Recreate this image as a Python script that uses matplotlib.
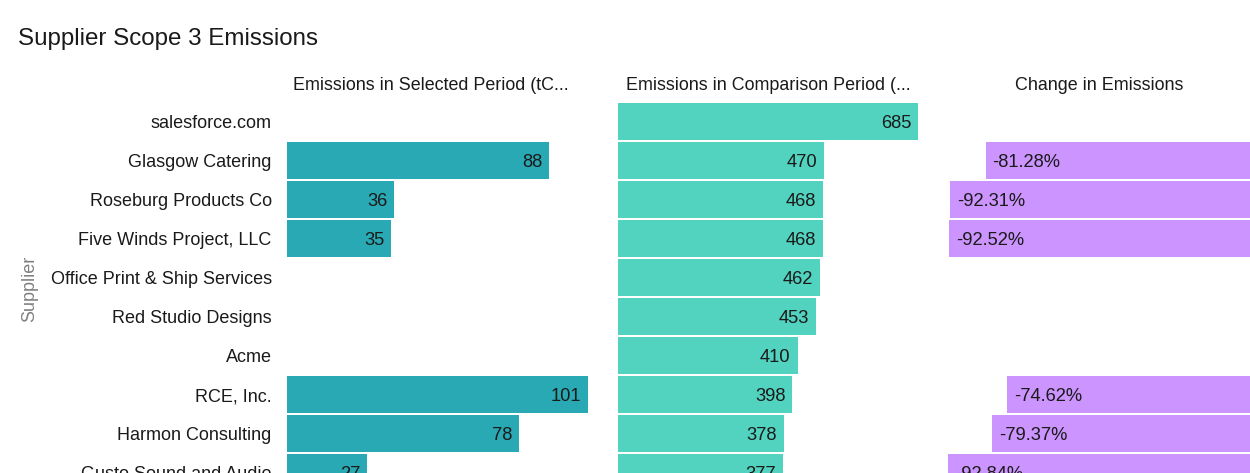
import matplotlib
matplotlib.use("Agg")
import matplotlib.pyplot as plt
import numpy as np

plt.rcParams['font.family'] = ['Liberation Sans', 'DejaVu Sans']

suppliers = ["salesforce.com", "Glasgow Catering", "Roseburg Products Co",
             "Five Winds Project, LLC", "Office Print & Ship Services",
             "Red Studio Designs", "Acme", "RCE, Inc.", "Harmon Consulting",
             "Gusto Sound and Audio"]
selected = [None, 88, 36, 35, None, None, None, 101, 78, 27]
comparison = [685, 470, 468, 468, 462, 453, 410, 398, 378, 377]
change = [None, -81.28, -92.31, -92.52, None, None, None, -74.62, -79.37, -92.84]

headers = ["Emissions in Selected Period (tC...",
           "Emissions in Comparison Period (...",
           "Change in Emissions"]
colors = ["#29A9B3", "#52D3BF", "#CC94FF"]

W, H = 1250, 473
fig = plt.figure(figsize=(W / 100, H / 100), dpi=100)

top_px = 102
row_px = 39
n = len(suppliers)
bottom_px = top_px + row_px * n
panels_px = [(287, 588), (618, 918), (948, 1250)]

axes = []
for (l, r) in panels_px:
    ax = fig.add_axes([l / W, 1 - bottom_px / H, (r - l) / W, (bottom_px - top_px) / H])
    axes.append(ax)

y = np.arange(n)
lab_fs = 13.2
txt = "#1a1a1a"

# Panel 1
ax = axes[0]
vals = [v if v is not None else 0 for v in selected]
ax.barh(y, vals, height=0.95, color=colors[0], edgecolor="none")
ax.set_xlim(0, max(v for v in selected if v is not None))
for i, v in enumerate(selected):
    if v is not None:
        ax.annotate(f"{v}", (v, i), xytext=(-5, 0), textcoords="offset points",
                    ha="right", va="center_baseline", fontsize=lab_fs, color=txt)

# Panel 2
ax = axes[1]
ax.barh(y, comparison, height=0.95, color=colors[1], edgecolor="none")
ax.set_xlim(0, max(comparison))
for i, v in enumerate(comparison):
    ax.annotate(f"{v}", (v, i), xytext=(-5, 0), textcoords="offset points",
                ha="right", va="center_baseline", fontsize=lab_fs, color=txt)

# Panel 3
ax = axes[2]
vals = [v if v is not None else 0 for v in change]
ax.barh(y, vals, height=0.95, color=colors[2], edgecolor="none")
ax.set_xlim(min(v for v in change if v is not None), 0)
for i, v in enumerate(change):
    if v is not None:
        ax.annotate(f"{v:.2f}%", (v, i), xytext=(5, 0), textcoords="offset points",
                    ha="left", va="center_baseline", fontsize=lab_fs, color=txt)

for k, ax in enumerate(axes):
    ax.set_ylim(n - 0.5, -0.5)
    for s in ax.spines.values():
        s.set_visible(False)
    ax.set_xticks([])
    ax.set_yticks([])
    ax.patch.set_alpha(0)

header_x = [431, 768, 1099]
for k, hx in enumerate(header_x):
    fig.text(hx / W, 1 - 84 / H, headers[k], ha="center", va="center_baseline",
             fontsize=12.9, color=txt)

axes[0].set_yticks(y)
axes[0].set_yticklabels(suppliers, fontsize=13, color=txt)
axes[0].tick_params(axis="y", length=0, pad=11)
for t in axes[0].get_yticklabels():
    t.set_verticalalignment("center_baseline")

fig.text(30 / W, 1 - 289 / H, "Supplier", rotation=90, ha="center", va="center",
         fontsize=13, color="#808080")
fig.text(18 / W, 1 - 36 / H, "Supplier Scope 3 Emissions", ha="left", va="center_baseline",
         fontsize=17.4, color=txt)

fig.savefig("out.png", dpi=100)
